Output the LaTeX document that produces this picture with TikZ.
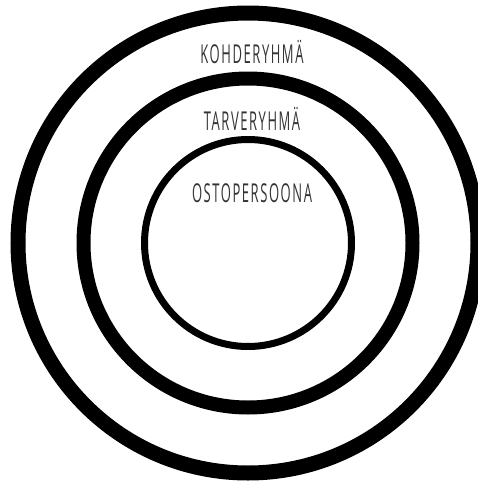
\documentclass[tikz,border=0pt]{standalone}
\usepackage{fontspec}
\usepackage{xcolor}
\usetikzlibrary{positioning}
\newfontfamily\ringfont[FakeStretch=0.5,LetterSpace=6]{Open Sans}
\definecolor{labelgray}{HTML}{333333}

\tikzset{
  ring/.style={circle, draw=black, fill=none, inner sep=0pt},
  ringlabel/.style={font=\ringfont\fontsize{26}{30}\selectfont, text=labelgray, inner sep=0pt}
}

\begin{document}
\begin{tikzpicture}[x=1pt, y=-1pt]
  \useasboundingbox (0,0) rectangle (478,482);
  % Rings, outer to inner
  \node[ring, line width=15pt, minimum size=460pt] (kohde) at (248,243) {};
  \node[ring, line width=14pt, minimum size=329pt] (tarve) at (248,243) {};
  \node[ring, line width=7pt, minimum size=207pt] (persona) at (248,243) {};
  % Labels
  \node[ringlabel] (kohdelbl) at (252,52) {KOHDERYHMÄ};
  \node[ringlabel] (tarvelbl) at (252,119) {TARVERYHMÄ};
  \node[ringlabel] (personalbl) at (252,193) {OSTOPERSOONA};
\end{tikzpicture}
\end{document}
